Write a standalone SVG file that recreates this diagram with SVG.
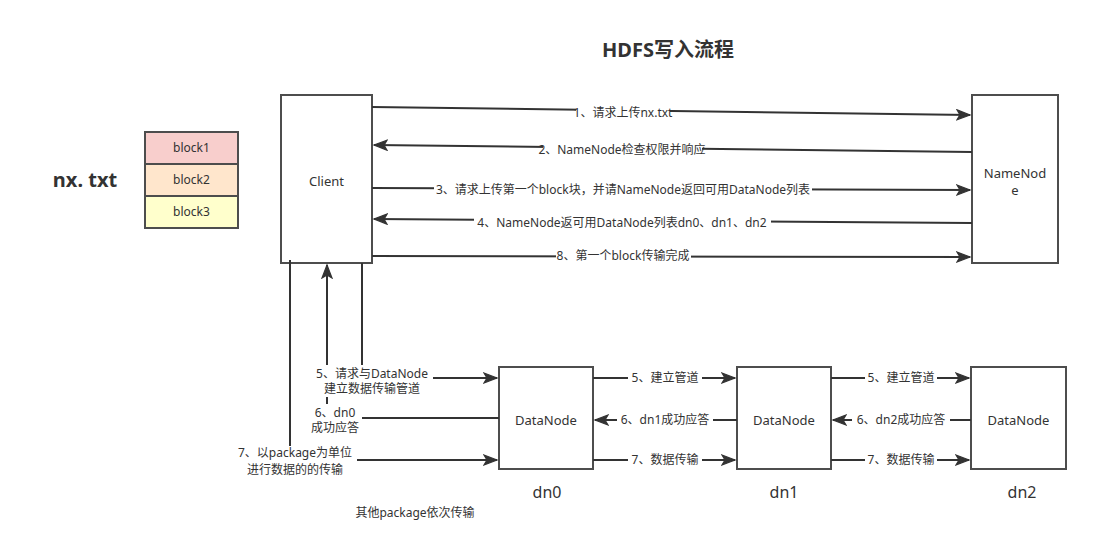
<svg xmlns="http://www.w3.org/2000/svg" width="1106" height="558" viewBox="0 0 1106 558">
<style>
  .box{fill:#fff;stroke:#4d4d4d;stroke-width:2}
  .ln{fill:none;stroke:#333;stroke-width:2}
  .t{font-family:"Noto Sans","Noto Sans CJK SC",sans-serif;font-size:12px;fill:#333;text-anchor:middle}
  .nt{font-family:"Noto Sans","Noto Sans CJK SC",sans-serif;font-size:13px;fill:#333;text-anchor:middle}
  .bg{fill:#fff}
</style>
<defs>
  <marker id="ar" markerUnits="userSpaceOnUse" markerWidth="16" markerHeight="14" refX="14" refY="6" orient="auto">
    <path d="M1,1 L14,6 L1,11 L4,6 Z" fill="#333" stroke="#333" stroke-width="1.2" stroke-linejoin="miter"/>
  </marker>
</defs>
<rect width="1106" height="558" fill="#fff"/>
<text x="668" y="57" font-family="'Noto Sans','Noto Sans CJK SC',sans-serif" font-size="20" font-weight="bold" fill="#333" text-anchor="middle">HDFS写入流程</text>
<text x="85" y="187" font-family="'Noto Sans','Noto Sans CJK SC',sans-serif" font-size="20" font-weight="bold" fill="#333" text-anchor="middle">nx. txt</text>

<g id="blocks">
  <rect x="145" y="132" width="93" height="32" fill="#f8cecc" stroke="#4d4d4d" stroke-width="2"/>
  <text class="t" x="191.5" y="152">block1</text>
  <rect x="145" y="164" width="93" height="32" fill="#ffe6cc" stroke="#4d4d4d" stroke-width="2"/>
  <text class="t" x="191.5" y="184">block2</text>
  <rect x="145" y="196" width="93" height="32" fill="#ffffcc" stroke="#4d4d4d" stroke-width="2"/>
  <text class="t" x="191.5" y="216">block3</text>
</g>

<g id="client"><rect class="box" x="281" y="95" width="91" height="168"/><text class="nt" x="326.5" y="186">Client</text></g>
<g id="namenode"><rect class="box" x="972" y="95" width="86" height="168"/><text class="nt" x="1015" y="178">NameNod</text><text class="nt" x="1015" y="195">e</text></g>
<g id="dn0"><rect class="box" x="499" y="367" width="94" height="102"/><text class="nt" x="546" y="425">DataNode</text></g>
<g id="dn1"><rect class="box" x="737" y="367" width="94" height="102"/><text class="nt" x="784" y="425">DataNode</text></g>
<g id="dn2"><rect class="box" x="971" y="367" width="95" height="102"/><text class="nt" x="1018.5" y="425">DataNode</text></g>

<g id="connectors">
  <path class="ln" d="M372,107 L970,115" marker-end="url(#ar)"/>
  <path class="ln" d="M972,152 L374,145" marker-end="url(#ar)"/>
  <path class="ln" d="M372,188 L970,190" marker-end="url(#ar)"/>
  <path class="ln" d="M972,223 L374,219" marker-end="url(#ar)"/>
  <path class="ln" d="M372,256 L970,257" marker-end="url(#ar)"/>

  <path class="ln" d="M362,263 V378 H497" marker-end="url(#ar)"/>
  <path class="ln" d="M499,418 H327 V265" marker-end="url(#ar)"/>
  <path class="ln" d="M290,260 V460 H497" marker-end="url(#ar)"/>

  <path class="ln" d="M593,378 H735" marker-end="url(#ar)"/>
  <path class="ln" d="M737,420 H595" marker-end="url(#ar)"/>
  <path class="ln" d="M593,460 H735" marker-end="url(#ar)"/>
  <path class="ln" d="M831,378 H969" marker-end="url(#ar)"/>
  <path class="ln" d="M971,420 H833" marker-end="url(#ar)"/>
  <path class="ln" d="M831,460 H969" marker-end="url(#ar)"/>
</g>

<g id="labels">
  <rect class="bg" x="576" y="105" width="94" height="16"/><text class="t" x="623" y="117">1、请求上传nx.txt</text>
  <rect class="bg" x="543" y="142" width="159" height="16"/><text class="t" x="622" y="154">2、NameNode检查权限并响应</text>
  <rect class="bg" x="434" y="182" width="378" height="16"/><text class="t" x="623" y="194">3、请求上传第一个block块，并请NameNode返回可用DataNode列表</text>
  <rect class="bg" x="474" y="215" width="297" height="16"/><text class="t" x="622" y="227">4、NameNode返可用DataNode列表dn0、dn1、dn2</text>
  <rect class="bg" x="556" y="248" width="135" height="16"/><text class="t" x="623" y="260">8、第一个block传输完成</text>

  <rect class="bg" x="312" y="365" width="121" height="32"/>
  <text class="t" x="372" y="378">5、请求与DataNode</text><text class="t" x="372" y="393">建立数据传输管道</text>
  <rect class="bg" x="309" y="404" width="53" height="32"/>
  <text class="t" x="335" y="417">6、dn0</text><text class="t" x="335" y="432">成功应答</text>
  <rect class="bg" x="233" y="446" width="124" height="32"/>
  <text class="t" x="295" y="457">7、以package为单位</text><text class="t" x="295" y="474">进行数据的的传输</text>

  <rect class="bg" x="628" y="371" width="74" height="15"/><text class="t" x="665" y="382">5、建立管道</text>
  <rect class="bg" x="617" y="413" width="96" height="15"/><text class="t" x="665" y="424">6、dn1成功应答</text>
  <rect class="bg" x="628" y="453" width="74" height="15"/><text class="t" x="665" y="464">7、数据传输</text>
  <rect class="bg" x="865" y="371" width="72" height="15"/><text class="t" x="901" y="382">5、建立管道</text>
  <rect class="bg" x="852" y="413" width="98" height="15"/><text class="t" x="901" y="424">6、dn2成功应答</text>
  <rect class="bg" x="865" y="453" width="72" height="15"/><text class="t" x="901" y="464">7、数据传输</text>

  <text x="547" y="498" font-family="'Noto Sans','Noto Sans CJK SC',sans-serif" font-size="16" fill="#333" text-anchor="middle">dn0</text>
  <text x="784" y="498" font-family="'Noto Sans','Noto Sans CJK SC',sans-serif" font-size="16" fill="#333" text-anchor="middle">dn1</text>
  <text x="1022" y="498" font-family="'Noto Sans','Noto Sans CJK SC',sans-serif" font-size="16" fill="#333" text-anchor="middle">dn2</text>
  <text class="t" x="415" y="517">其他package依次传输</text>
</g>
</svg>
